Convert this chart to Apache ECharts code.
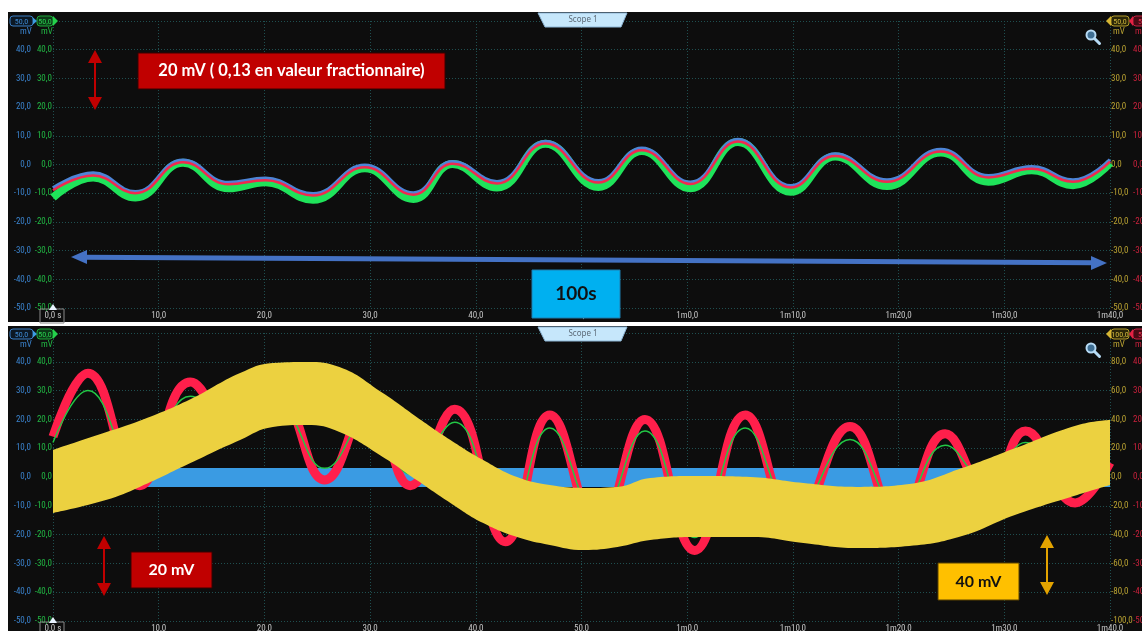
<!DOCTYPE html>
<html>
<head>
<meta charset="utf-8">
<script src="https://cdn.jsdelivr.net/npm/echarts@6/dist/echarts.min.js"></script>
<style>
  html, body { margin: 0; padding: 0; background: #ffffff; }
  #chart { width: 1142px; height: 631px; }
</style>
</head>
<body>
<div id="chart"></div>
<script>
// ---- Time base (seconds) ----
const timeTicks = [0, 10, 20, 30, 40, 50, 60, 70, 80, 90, 100];

// ---- Upper scope: three channels, extrema of each trace (t in s, mV) ----
const upperTimes = [0, 3.8, 7.8, 12.3, 16.6, 20.1, 24.6, 29.5, 34.1, 37.8, 42.0, 46.6, 51.6, 55.7, 60.3, 64.8, 69.8, 74.0, 78.9, 84.0, 88.5, 92.6, 96.5, 100];
const upperRed   = [-9.0, -3.8, -10.0, 0.8, -6.9, -5.5, -10.8, -1.0, -10.5, 0.3, -6.6, 7.3, -6.3, 5.0, -6.8, 8.0, -8.0, 3.0, -6.0, 4.5, -4.5, -1.5, -6.0, 1.0];
const upperBlue  = [-8.2, -3.0, -9.5, 1.5, -6.3, -4.8, -10.2, -0.3, -9.9, 1.0, -6.0, 8.0, -5.7, 5.7, -6.2, 8.7, -7.4, 3.7, -5.4, 5.2, -3.9, -0.8, -5.4, 1.7];
const upperGreen = [-11.5, -4.5, -11.5, 0.6, -8.3, -6.2, -12.3, -1.3, -12.0, 0.2, -8.0, 7.2, -7.8, 4.7, -8.3, 7.8, -9.5, 2.8, -7.5, 4.2, -6.0, -2.0, -7.2, 0.6];

// ---- Lower scope ----
const lowerRedTimes = [0, 3.3, 8.2, 13.0, 17.3, 21.2, 25.7, 30.0, 33.8, 38.0, 42.8, 47.0, 51.6, 56.0, 60.7, 65.5, 70.2, 75.4, 80.0, 84.4, 88.4, 92.0, 96.7, 100];
const lowerRed   = [14, 36, -3, 33, 16, 28, -1, 26, -3, 23.5, -22.5, 21.5, -18, 20, -25.5, 21.5, -16, 17.5, -15, 15, -6, 16, -9, 5];
const lowerGreen = [12, 30, 1, 28, 18, 24, 3, 22, 1, 19, -18, 17, -14, 16, -21, 17, -12, 13, -11, 11, -2, 12, -5, 4];
const lowerBlueTimes = [0, 100];
const lowerBlue = [-0.2, -0.2];
// yellow channel (100 mV/div scale): upper and lower edge of the noise band
const yellowTimes  = [0, 5, 8.2, 13, 17.7, 20.8, 24, 27.1, 31.2, 34.4, 37.6, 40.7, 43.9, 47, 50.2, 53.4, 56.5, 61, 66, 71, 76, 81, 86, 91, 96.9, 100];
const yellowTop    = [18.8, 31, 39, 54, 72.2, 79.2, 79.9, 76.4, 58.3, 41.7, 25.7, 11.8, 0, -5.6, -7.6, -6.9, -0.7, 0.7, 0, -4.2, -6.9, -4.9, 6.2, 20, 36, 39.6];
const yellowBottom = [-25, -16, -6.9, 9.7, 25.7, 34.7, 36.1, 31.2, 13.9, -2.1, -18, -32, -41.7, -47.2, -50.7, -48.6, -43.8, -41.7, -41.7, -45.8, -49.3, -47.9, -41, -26.4, -12.5, -5.6];

// ---- helpers ----
const pairs = (xs, ys) => xs.map((x, i) => [x, ys[i]]);
const fmtMv = v => v.toFixed(1).replace('.', ',');
const fmtTime = v => v === 0 ? '0,0 s' : (v >= 60 ? '1m' + (v - 60) + ',0' : v + ',0');

const C = {
  blue: '#3a82cc', green: '#22b844', yellow: '#b9a232', red: '#c8213c',
  grid: '#1f4f50', label: '#c4c4c4'
};
const AXIS_FONT = '"Liberation Sans Narrow", "Roboto Condensed", Roboto, sans-serif';

function xAxisFor(gridIndex) {
  return {
    gridIndex, type: 'value', min: 0, max: 100, interval: 10,
    axisLine: { show: false }, axisTick: { show: false },
    axisLabel: { color: C.label, fontSize: 9, fontFamily: AXIS_FONT, margin: 3, formatter: fmtTime },
    splitLine: { show: true, lineStyle: { color: C.grid, type: [1, 2], width: 1 } }
  };
}
function yAxisFor(gridIndex, position, offset, color, max, step, grid) {
  return {
    gridIndex, type: 'value', position, offset, min: -max, max: max, interval: step,
    axisLine: { show: false }, axisTick: { show: false },
    axisLabel: { color, fontSize: 9, fontFamily: AXIS_FONT, margin: 1, formatter: fmtMv, showMaxLabel: false, showMinLabel: true },
    splitLine: { show: !!grid, lineStyle: { color: C.grid, type: [1, 2], width: 1 } }
  };
}

// ---- decorations (panels, tabs, badges, annotations) ----
const g = [];
function panel(y, h) {
  g.push({ type: 'rect', z: -10, silent: true, shape: { x: 8, y, width: 1134, height: h }, style: { fill: '#0d0d0d' } });
}
function scopeTab(y) {
  g.push({ type: 'polygon', z: 50, shape: { points: [[538, y], [627, y], [621, y + 14], [545, y + 14]] }, style: { fill: '#c6e7fb', stroke: '#8db6d6', lineWidth: 1 } });
  g.push({ type: 'text', z: 51, x: 583, y: y + 7, style: { text: 'Scope 1', fill: '#5d6b78', font: '8px "Noto Sans", sans-serif', align: 'center', verticalAlign: 'middle' } });
}
function badge(x, y, w, text, stroke, fill, textColor) {
  g.push({ type: 'rect', z: 50, shape: { x, y, width: w, height: 10, r: 3 }, style: { fill, stroke, lineWidth: 1 } });
  g.push({ type: 'text', z: 51, x: x + w / 2, y: y + 5.5, style: { text, fill: textColor, font: '8px ' + AXIS_FONT, align: 'center', verticalAlign: 'middle' } });
}
function tri(points, fill, z) {
  g.push({ type: 'polygon', z: z || 52, shape: { points }, style: { fill } });
}
function unit(x, y, color) {
  g.push({ type: 'text', z: 51, x, y, style: { text: 'mV', fill: color, font: '9px ' + AXIS_FONT, align: 'center', verticalAlign: 'middle' } });
}
function scopeChrome(top, rightLabel) {
  // left channel badges
  badge(10, top, 23, '50,0', '#3a7ec4', '#0c1824', '#3e8ad4');
  tri([[33, top + 1.5], [37, top + 5], [33, top + 8.5]], '#3d9de2');
  badge(37, top, 16, '50,0', '#1fa83a', '#0b3a17', '#2ad050');
  tri([[53, top], [58, top + 5], [53, top + 10]], '#24d24c');
  unit(26, top + 16, C.blue);
  unit(47, top + 16, C.green);
  // right channel badges
  tri([[1106, top + 5], [1111, top], [1111, top + 10]], '#d6b532');
  badge(1111, top, 18, rightLabel, '#b49c2a', '#2a2608', '#cdb43c');
  tri([[1129, top + 5], [1133, top], [1133, top + 10]], '#e42244');
  badge(1133, top, 18, '50', '#c42040', '#4a0a14', '#e83050');
  unit(1119, top + 16, C.yellow);
  unit(1141, top + 16, C.red);
  // zoom glass
  g.push({ type: 'circle', z: 50, shape: { cx: 1091, cy: top + 19, r: 4.5 }, style: { fill: '#3f6f94', stroke: '#b7dbf5', lineWidth: 2 } });
  g.push({ type: 'line', z: 50, shape: { x1: 1094.5, y1: top + 22.5, x2: 1099.5, y2: top + 27.5 }, style: { stroke: '#b7dbf5', lineWidth: 3, lineCap: 'round' } });
}
function timeOrigin(gridBottom) {
  g.push({ type: 'rect', z: 40, shape: { x: 40, y: gridBottom + 1, width: 24, height: 14 }, style: { fill: 'none', stroke: '#8a8a8a', lineWidth: 1 } });
  tri([[49, gridBottom + 2], [53, gridBottom - 4], [57, gridBottom + 2]], '#e8f3ff');
}
function vArrow(x, y1, y2, color, head) {
  g.push({ type: 'line', z: 100, shape: { x1: x, y1: y1 + head, x2: x, y2: y2 - head }, style: { stroke: color, lineWidth: 2 } });
  tri([[x, y1], [x - 7, y1 + head], [x + 7, y1 + head]], color, 100);
  tri([[x, y2], [x - 7, y2 - head], [x + 7, y2 - head]], color, 100);
}
function labelBox(x, y, w, h, fill, stroke, text, textColor, font) {
  g.push({ type: 'rect', z: 100, shape: { x, y, width: w, height: h }, style: { fill, stroke, lineWidth: 1 } });
  g.push({ type: 'text', z: 101, x: x + w / 2, y: y + h / 2, style: { text, fill: textColor, font, align: 'center', verticalAlign: 'middle' } });
}

panel(12, 310);
panel(326, 305);
scopeTab(13);
scopeTab(327);
scopeChrome(16, '50,0');
scopeChrome(329, '100,0');
timeOrigin(308);
timeOrigin(621);

// upper scope annotations
vArrow(95, 50, 110, '#c00000', 13);
labelBox(138, 53, 307, 36, '#c00000', '#3a0000', '20 mV ( 0,13 en valeur fractionnaire)', '#ffffff', 'bold 16.5px Lato, "Open Sans", sans-serif');
g.push({ type: 'line', z: 100, shape: { x1: 84, y1: 257.2, x2: 1094, y2: 262.8 }, style: { stroke: '#4472c4', lineWidth: 5 } });
g.push({ type: 'polygon', z: 100, shape: { points: [[71, 257], [87, 250], [87, 264]] }, style: { fill: '#4472c4' } });
g.push({ type: 'polygon', z: 100, shape: { points: [[1107, 263], [1091, 256], [1091, 270]] }, style: { fill: '#4472c4' } });
labelBox(532, 270, 88, 48, '#00b0f0', '#1f7fb0', '100s', '#111111', 'bold 19px Lato, "Open Sans", sans-serif');
// lower scope annotations
vArrow(104, 536, 596, '#c00000', 13);
labelBox(131, 552, 81, 36, '#c00000', '#3a0000', '20 mV', '#ffffff', 'bold 16px Lato, "Open Sans", sans-serif');
vArrow(1047, 535, 595, '#e3a300', 13);
labelBox(938, 563, 81, 37, '#ffc000', '#5a4300', '40 mV', '#111111', 'bold 16px Lato, "Open Sans", sans-serif');

// ---- series ----
const line = (name, xs, ys, color, width, xi, yi, z) => ({
  name, type: 'line', xAxisIndex: xi, yAxisIndex: yi, data: pairs(xs, ys),
  smooth: 0.45, showSymbol: false, symbol: 'none', z,
  lineStyle: { color, width, cap: 'butt', join: 'round' }, silent: true
});
// yellow band: value column first so the stack accumulates on the mV axis
const yellowBand = (name, values, area) => ({
  name, type: 'line', xAxisIndex: 1, yAxisIndex: 6,
  stack: 'voieC', stackStrategy: 'all',
  data: yellowTimes.map((t, i) => [values[i], t]),
  encode: { x: 1, y: 0 },
  smooth: 0.45, showSymbol: false, symbol: 'none', z: 5, silent: true,
  lineStyle: { width: 0, opacity: 0 },
  areaStyle: area ? { color: '#ecd140', opacity: 1 } : undefined
});

const option = {
  backgroundColor: '#ffffff',
  animation: false,
  grid: [
    { left: 53, right: 32, top: 21, height: 287, outerBoundsMode: 'none', containLabel: false },
    { left: 53, right: 32, top: 333, height: 288, outerBoundsMode: 'none', containLabel: false }
  ],
  xAxis: [xAxisFor(0), xAxisFor(1)],
  yAxis: [
    yAxisFor(0, 'left', 21, C.blue, 50, 10, false),
    yAxisFor(0, 'left', 0, C.green, 50, 10, true),
    yAxisFor(0, 'right', 0, C.yellow, 50, 10, false),
    yAxisFor(0, 'right', 22, C.red, 50, 10, false),
    yAxisFor(1, 'left', 21, C.blue, 50, 10, false),
    yAxisFor(1, 'left', 0, C.green, 50, 10, true),
    yAxisFor(1, 'right', 0, C.yellow, 100, 20, false),
    yAxisFor(1, 'right', 22, C.red, 50, 10, false)
  ],
  graphic: { elements: g },
  series: [
    line('Voie B', upperTimes, upperGreen, '#1fe35a', 8, 0, 1, 2),
    line('Voie A', upperTimes, upperBlue, '#4d84d6', 3.5, 0, 0, 3),
    line('Voie D', upperTimes, upperRed, '#f0294f', 2.5, 0, 3, 4),
    line('Voie A', lowerBlueTimes, lowerBlue, '#3a9be3', 19, 1, 4, 2),
    line('Voie D', lowerRedTimes, lowerRed, '#ff1f4b', 9, 1, 7, 3),
    line('Voie B', lowerRedTimes, lowerGreen, '#22c845', 1.5, 1, 5, 4),
    yellowBand('Voie C base', yellowBottom, false),
    yellowBand('Voie C', yellowTop.map((v, i) => v - yellowBottom[i]), true)
  ]
};

const chart = echarts.init(document.getElementById('chart'), null, { renderer: 'canvas' });
chart.setOption(option);
</script>
</body>
</html>
